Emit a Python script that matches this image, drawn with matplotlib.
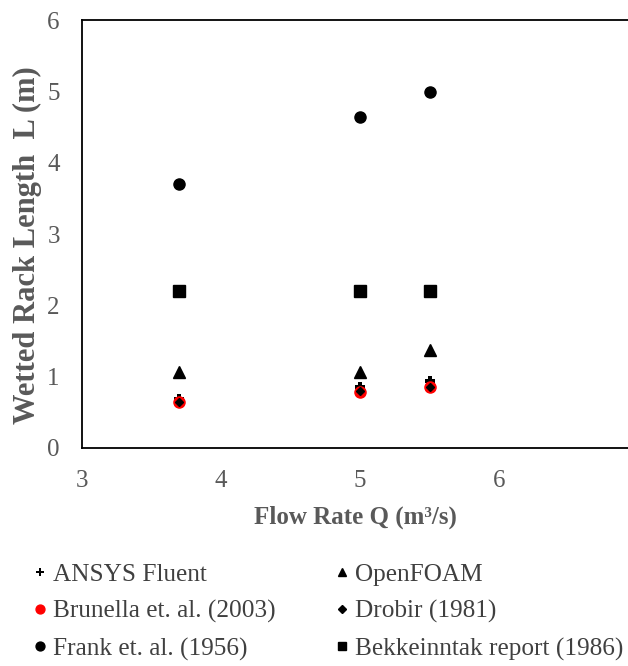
import matplotlib
matplotlib.use("Agg")
import matplotlib.pyplot as plt

# Wetted rack length vs flow rate
flow_q = [3.7, 5.0, 5.5]
ansys_fluent = [0.69, 0.86, 0.94]
openfoam = [1.06, 1.07, 1.37]
brunella = [0.64, 0.79, 0.85]
drobir = [0.65, 0.80, 0.86]
frank = [3.70, 4.64, 4.99]
bekkeinntak = [2.20, 2.20, 2.20]

plt.rcParams["font.family"] = ["Liberation Serif", "DejaVu Serif"]
grey = "#595959"

fig = plt.figure(figsize=(6.28, 6.66), dpi=100)
ax = fig.add_axes([82 / 628, 1 - 448 / 666, 1 - 82 / 628, 428 / 666])

h_ansys, = ax.plot(flow_q, ansys_fluent, ls="none", marker="P", ms=7,
                   color="black", mew=0, label="ANSYS Fluent", zorder=3)
h_open, = ax.plot(flow_q, openfoam, ls="none", marker="^", ms=8,
                  color="black", label="OpenFOAM", zorder=3)
h_brun, = ax.plot(flow_q, brunella, ls="none", marker="o", ms=8,
                  color="#ff0000", label="Brunella et. al. (2003)", zorder=3)
h_drob, = ax.plot(flow_q, drobir, ls="none", marker="D", ms=4.5,
                  color="black", label="Drobir (1981)", zorder=4)
h_frank, = ax.plot(flow_q, frank, ls="none", marker="o", ms=8,
                   color="black", label="Frank et. al. (1956)", zorder=3)
h_bekk, = ax.plot(flow_q, bekkeinntak, ls="none", marker="s", ms=8,
                  color="black", label="Bekkeinntak report (1986)", zorder=3)

ax.set_xlim(3, 3 + 546 / 139)
ax.set_ylim(0, 6)
ax.set_xticks([3, 4, 5, 6])
ax.set_yticks(range(7))
ax.tick_params(length=0, labelsize=18, labelcolor=grey)
ax.tick_params(axis="x", pad=16)
ax.tick_params(axis="y", pad=16)
for side in ["top", "left", "bottom"]:
    ax.spines[side].set_color("black")
    ax.spines[side].set_linewidth(1.3)
ax.spines["right"].set_visible(False)

ax.set_xlabel("Flow Rate Q (m³/s)", fontsize=18, fontweight="bold",
              color=grey)
ax.xaxis.set_label_coords(0.5, -0.134)
ax.set_ylabel("Wetted Rack Length  L (m)", fontsize=22, fontweight="bold",
              color=grey)
ax.yaxis.set_label_coords(-0.073, 0.474)

# two columns, filled row by row
handles = [h_ansys, h_brun, h_frank, h_open, h_drob, h_bekk]
fig.legend(handles=handles, labels=[h.get_label() for h in handles],
           loc="lower left", bbox_to_anchor=(0.016, -0.026), ncol=2,
           frameon=False, fontsize=18.2, labelcolor="#404040",
           markerscale=0.8, handletextpad=0.2, columnspacing=2.32,
           labelspacing=0.57, handlelength=0.6)

fig.savefig("out.png", dpi=100)
